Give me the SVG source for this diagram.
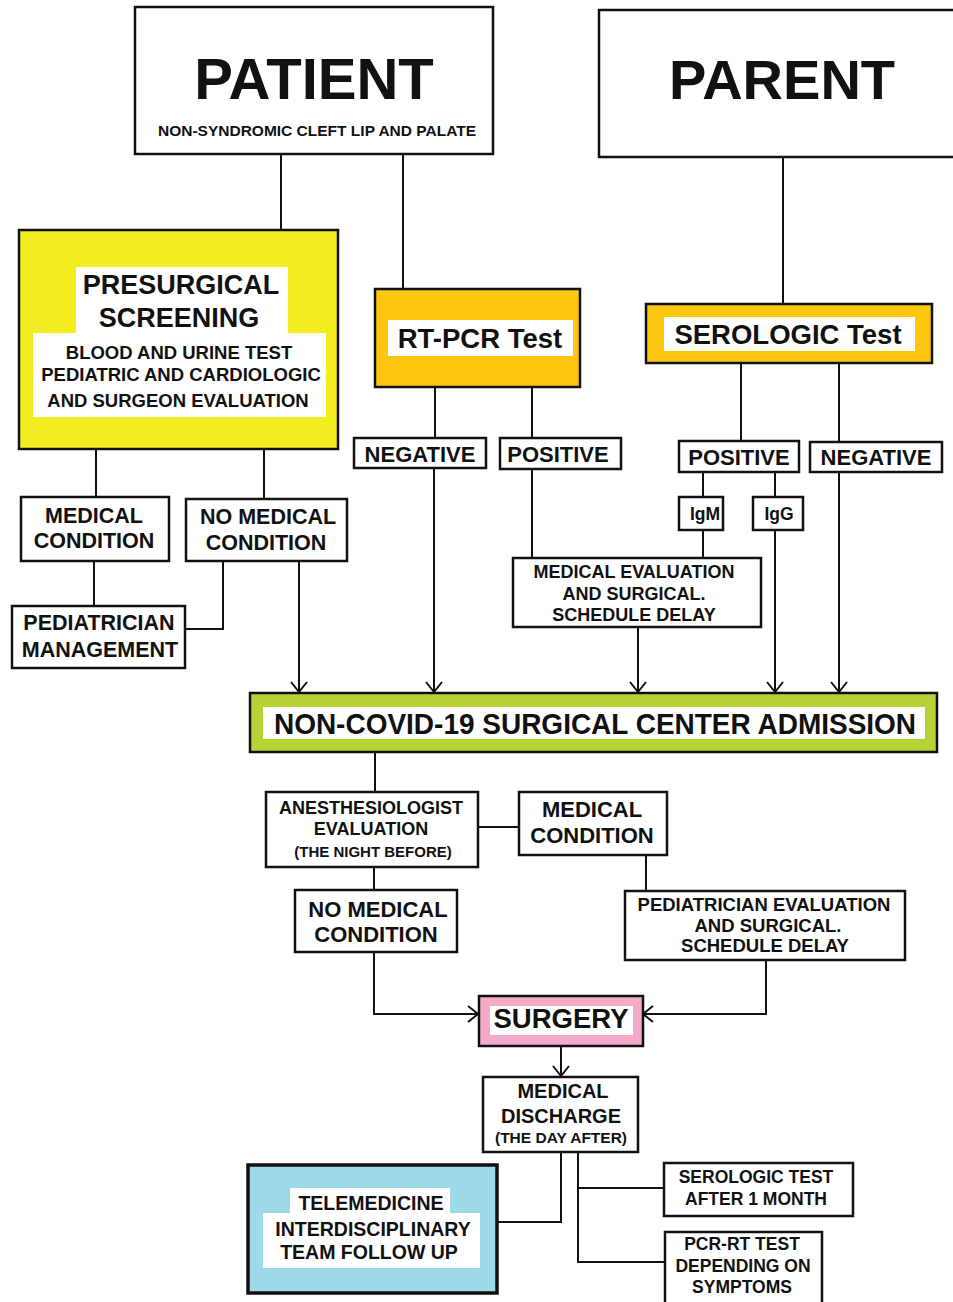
<svg xmlns="http://www.w3.org/2000/svg" width="953" height="1302" viewBox="0 0 953 1302">
<style>
text{font-family:"Liberation Sans",Arial,sans-serif;font-weight:bold;fill:#111;text-anchor:middle}
.box{fill:#fff;stroke:#111;stroke-width:2.5}
.lbl{fill:#fff;stroke:none}
.conn path{fill:none;stroke:#111;stroke-width:2}
.arr{marker-end:url(#ah)}
</style>
<defs>
<marker id="ah" viewBox="0 0 10 16" refX="10" refY="8" markerWidth="10" markerHeight="16" markerUnits="userSpaceOnUse" orient="auto" overflow="visible">
<path d="M0,0 L10,8 L0,16" fill="none" stroke="#111" stroke-width="2"/>
</marker>
</defs>
<rect width="953" height="1302" fill="#fff"/>

<g class="conn" id="connectors">
<path d="M281,154 V230"/>
<path d="M403,154 V289"/>
<path d="M783,157 V304"/>
<path d="M96,449 V497"/>
<path d="M264,449 V499"/>
<path d="M94,561 V606"/>
<path d="M223,561 V629 H185"/>
<path class="arr" d="M299,561 V692"/>
<path d="M435,387 V438"/>
<path d="M532,387 V438"/>
<path class="arr" d="M434,468 V692"/>
<path d="M532,469 V558"/>
<path d="M741,363 V441"/>
<path d="M839,363 V442"/>
<path d="M703,472 V497"/>
<path d="M775,472 V497"/>
<path d="M703,530 V558"/>
<path class="arr" d="M775,530 V692"/>
<path class="arr" d="M839,472 V692"/>
<path class="arr" d="M638,627 V692"/>
<path d="M375,752 V792"/>
<path d="M478,827 H519"/>
<path d="M374,867 V890"/>
<path d="M646,855 V891"/>
<path class="arr" d="M374,952 V1014 H478"/>
<path class="arr" d="M766,960 V1014 H643"/>
<path class="arr" d="M561,1046 V1076"/>
<path d="M561,1152 V1222 H498"/>
<path d="M578,1152 V1262 H665"/>
<path d="M578,1188 H664"/>
</g>

<g id="patient">
<rect class="box" x="135" y="7" width="358" height="147"/>
<text x="314" y="99" font-size="58">PATIENT</text>
<text x="317" y="136" font-size="15.5">NON-SYNDROMIC CLEFT LIP AND PALATE</text>
</g>

<g id="parent">
<rect class="box" x="599" y="10" width="380" height="147"/>
<text x="782" y="99" font-size="56">PARENT</text>
</g>

<g id="presurgical">
<rect x="19" y="230" width="319" height="219" fill="#F3EC1E" stroke="#111" stroke-width="2.5"/>
<path class="lbl" d="M76,267 H288 V333 H326 V417 H33 V333 H76 Z"/>
<text x="181" y="294" font-size="27">PRESURGICAL</text>
<text x="179" y="327" font-size="27">SCREENING</text>
<text x="179" y="359" font-size="18.5">BLOOD AND URINE TEST</text>
<text x="181" y="381" font-size="18.5">PEDIATRIC AND CARDIOLOGIC</text>
<text x="178" y="407" font-size="18.5">AND SURGEON EVALUATION</text>
</g>

<g id="rtpcr">
<rect x="375" y="289" width="205" height="98" fill="#FDC70F" stroke="#111" stroke-width="2.5"/>
<rect class="lbl" x="388" y="320" width="185" height="36"/>
<text x="480" y="348" font-size="27.5">RT-PCR Test</text>
</g>

<g id="serologic">
<rect x="646" y="304" width="286" height="59" fill="#FDC70F" stroke="#111" stroke-width="2.5"/>
<rect class="lbl" x="664" y="317" width="251" height="34"/>
<text x="788" y="344" font-size="27.5">SEROLOGIC Test</text>
</g>

<g id="pcr-negative">
<rect class="box" x="354" y="438" width="132" height="30"/>
<text x="420" y="462" font-size="22">NEGATIVE</text>
</g>

<g id="pcr-positive">
<rect class="box" x="500" y="438" width="121" height="31"/>
<text x="558" y="462" font-size="22">POSITIVE</text>
</g>

<g id="sero-positive">
<rect class="box" x="679" y="441" width="120" height="31"/>
<text x="739" y="465" font-size="22">POSITIVE</text>
</g>

<g id="sero-negative">
<rect class="box" x="810" y="442" width="132" height="30"/>
<text x="876" y="465" font-size="22">NEGATIVE</text>
</g>

<g id="igm">
<rect class="box" x="679" y="497" width="44" height="33"/>
<text x="705" y="520" font-size="17.5">IgM</text>
</g>

<g id="igg">
<rect class="box" x="753" y="497" width="50" height="33"/>
<text x="779" y="520" font-size="17.5">IgG</text>
</g>

<g id="medical-evaluation">
<rect class="box" x="513" y="558" width="248" height="69"/>
<text x="634" y="578" font-size="18">MEDICAL EVALUATION</text>
<text x="634" y="600" font-size="18">AND SURGICAL.</text>
<text x="634" y="621" font-size="18">SCHEDULE DELAY</text>
</g>

<g id="medical-condition-1">
<rect class="box" x="21" y="497" width="148" height="64"/>
<text x="94" y="523" font-size="21.5">MEDICAL</text>
<text x="94" y="548" font-size="21.5">CONDITION</text>
</g>

<g id="no-medical-condition-1">
<rect class="box" x="186" y="499" width="161" height="62"/>
<text x="268" y="524" font-size="21.5">NO MEDICAL</text>
<text x="266" y="550" font-size="21.5">CONDITION</text>
</g>

<g id="pediatrician-management">
<rect class="box" x="12" y="606" width="173" height="62"/>
<text x="99" y="630" font-size="21.5">PEDIATRICIAN</text>
<text x="100" y="657" font-size="21.5">MANAGEMENT</text>
</g>

<g id="admission">
<rect x="250" y="693" width="687" height="59" fill="#B5D334" stroke="#111" stroke-width="2.5"/>
<rect class="lbl" x="263" y="707" width="662" height="32"/>
<text transform="translate(595,734) scale(1,1.08)" x="0" y="0" font-size="28">NON-COVID-19 SURGICAL CENTER ADMISSION</text>
</g>

<g id="anesthesiologist">
<rect class="box" x="266" y="792" width="212" height="75"/>
<text x="371" y="814" font-size="18">ANESTHESIOLOGIST</text>
<text x="371" y="835" font-size="18">EVALUATION</text>
<text x="373" y="857" font-size="15">(THE NIGHT BEFORE)</text>
</g>

<g id="medical-condition-2">
<rect class="box" x="519" y="792" width="148" height="63"/>
<text x="592" y="817" font-size="22">MEDICAL</text>
<text x="592" y="843" font-size="22">CONDITION</text>
</g>

<g id="no-medical-condition-2">
<rect class="box" x="295" y="890" width="162" height="62"/>
<text x="378" y="917" font-size="22">NO MEDICAL</text>
<text x="376" y="942" font-size="22">CONDITION</text>
</g>

<g id="pediatrician-evaluation">
<rect class="box" x="625" y="891" width="280" height="69"/>
<text x="764" y="911" font-size="18.5">PEDIATRICIAN EVALUATION</text>
<text x="768" y="932" font-size="18.5">AND SURGICAL.</text>
<text x="765" y="952" font-size="18.5">SCHEDULE DELAY</text>
</g>

<g id="surgery">
<rect x="479" y="996" width="164" height="50" fill="#F4ABC9" stroke="#111" stroke-width="2.5"/>
<rect class="lbl" x="490" y="1006" width="143" height="29"/>
<text x="561" y="1028" font-size="27.5">SURGERY</text>
</g>

<g id="medical-discharge">
<rect class="box" x="483" y="1077" width="155" height="75"/>
<text x="563" y="1098" font-size="20">MEDICAL</text>
<text x="561" y="1123" font-size="20">DISCHARGE</text>
<text x="561" y="1143" font-size="15.5">(THE DAY AFTER)</text>
</g>

<g id="telemedicine">
<rect x="248" y="1165" width="249" height="128" fill="#9DD9E8" stroke="#111" stroke-width="3.5"/>
<path class="lbl" d="M290,1188 H450 V1213 H480 V1268 H263 V1213 H290 Z"/>
<text x="371" y="1210" font-size="19.5">TELEMEDICINE</text>
<text x="373" y="1236" font-size="19.5">INTERDISCIPLINARY</text>
<text x="369" y="1259" font-size="19.5">TEAM FOLLOW UP</text>
</g>

<g id="serologic-followup">
<rect class="box" x="664" y="1163" width="189" height="53"/>
<text x="756" y="1183" font-size="17.5">SEROLOGIC TEST</text>
<text x="756" y="1205" font-size="17.5">AFTER 1 MONTH</text>
</g>

<g id="pcr-followup">
<rect class="box" x="665" y="1232" width="157" height="75"/>
<text x="742" y="1250" font-size="17.5">PCR-RT TEST</text>
<text x="743" y="1272" font-size="17.5">DEPENDING ON</text>
<text x="742" y="1293" font-size="17.5">SYMPTOMS</text>
</g>
</svg>
